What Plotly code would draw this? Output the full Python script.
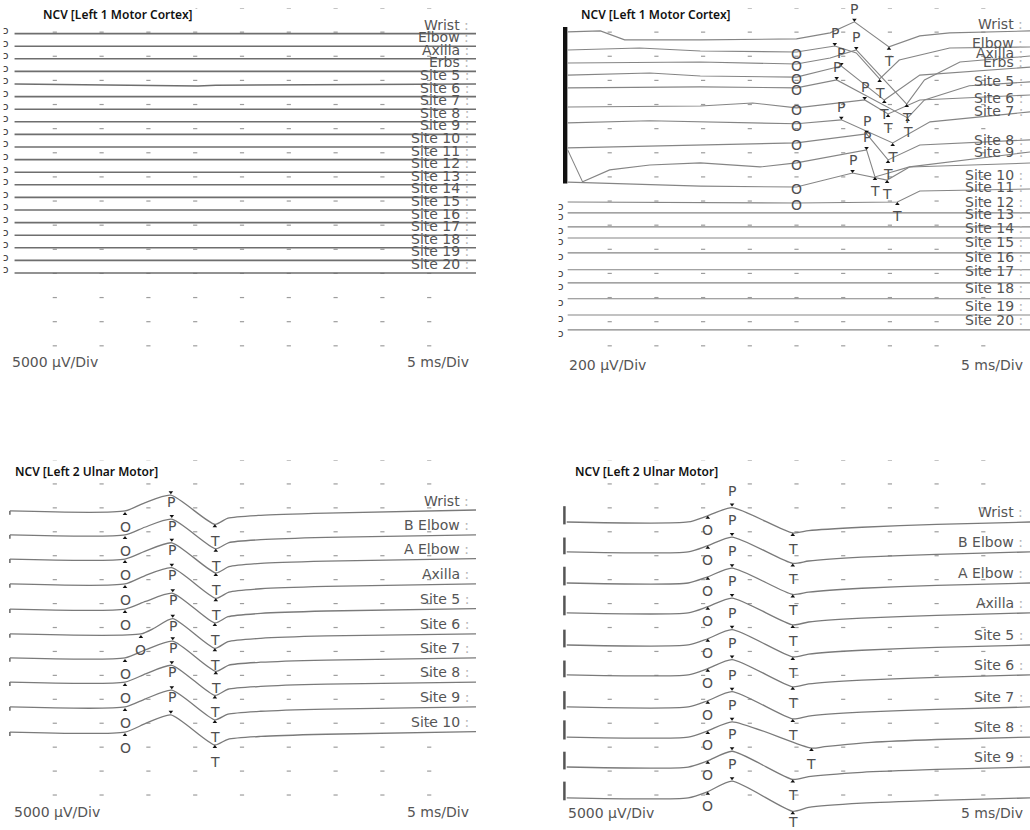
import plotly.graph_objects as go

# ======================= DATA =======================
TITLE_CORTEX = "NCV [Left 1 Motor Cortex]"
TITLE_ULNAR = "NCV [Left 2 Ulnar Motor]"
SENS_LABELS = ["5000 µV/Div", "200 µV/Div", "5000 µV/Div", "5000 µV/Div"]
UV_PER_DIV = [5000, 200, 5000, 5000]
SWEEP_LABEL = "5 ms/Div"
MS_RANGE = [0, 50]

CORTEX_SITES = ["Wrist", "Elbow", "Axilla", "Erbs", "Site 5", "Site 6", "Site 7",
                "Site 8", "Site 9", "Site 10", "Site 11", "Site 12", "Site 13",
                "Site 14", "Site 15", "Site 16", "Site 17", "Site 18", "Site 19", "Site 20"]
ULNAR_SITES_L = ["Wrist", "B Elbow", "A Elbow", "Axilla", "Site 5", "Site 6",
                 "Site 7", "Site 8", "Site 9", "Site 10"]
ULNAR_SITES_R = ["Wrist", "B Elbow", "A Elbow", "Axilla", "Site 5", "Site 6",
                 "Site 7", "Site 8", "Site 9", ""]

# Panel 1 (Left 1 Motor Cortex, 5000 uV/Div): time (ms) and amplitude (uV)
P1_T = [[0.7, 50.0]] * 4 + [[0.7, 18.5, 20.3, 22.2, 50.0]] + [[0.7, 50.0]] * 15
P1_V = [[0, 0]] * 4 + [[0, -250, -400, -250, 0]] + [[0, 0]] * 15

# Panel 2 (Left 1 Motor Cortex, 200 uV/Div)
P2_T = [
    [0.5, 4.0, 6.6, 14.7, 25.0, 28.6, 31.2, 34.9, 38.2, 41.4, 50.0],
    [0.5, 8.2, 14.7, 25.0, 29.1, 31.4, 33.9, 36.0, 41.4, 50.0],
    [0.5, 14.7, 25.0, 28.6, 31.4, 36.8, 38.7, 42.5, 50.0],
    [0.5, 9.3, 14.7, 25.0, 29.8, 34.4, 38.2, 50.0],
    [0.5, 14.7, 25.0, 29.3, 36.9, 38.7, 43.5, 50.0],
    [0.5, 14.7, 20.3, 25.0, 32.3, 34.8, 38.2, 50.0],
    [0.5, 9.3, 25.0, 29.8, 35.3, 39.3, 50.0],
    [0.5, 14.7, 25.0, 32.5, 34.8, 38.2, 50.0],
    [0.5, 2.1, 5.0, 9.3, 14.7, 21.1, 25.0, 32.5, 33.4, 37.1, 50.0],
    [0.5, 14.7, 25.0, 31.0, 34.7, 37.1, 50.0],
    [0.5, 25.0, 35.8, 38.2, 50.0],
] + [[0.5, 50.0]] * 9
P2_V = [
    [0, 8, -66, -66, -58, -8, 83, -124, -33, -8, 8],
    [0, 17, -8, -17, 33, -25, -240, -83, 17, 25],
    [0, 8, -8, 41, 108, -340, -141, 8, 58],
    [0, 17, -8, -17, 75, -207, 0, 66],
    [0, 8, 0, 66, -249, -100, 17, 50],
    [0, 8, 33, -8, 58, -58, 58, 99],
    [0, 17, -8, 25, -166, 8, 91],
    [-41, -17, 0, 75, -141, -17, 25],
    [108, -157, -58, -17, 0, -33, 0, 108, -116, -33, 91],
    [41, 8, 0, 116, 58, 166, 199],
    [0, -8, 0, 91, 108],
] + [[0, 0]] * 9
# knot index of onset (O), peak (P), trough (T); None = not marked
P2_MARKS = [(4, 6, 7), (3, 4, 6), (2, 4, 5), (3, 4, 5), (2, 3, 4), (3, 4, 5),
            (2, 3, 4), (2, 3, 4), (6, 7, 8), (2, 3, 4), (1, None, 2)] + [(None, None, None)] * 9

# Panel 3 (Left 2 Ulnar Motor, 5000 uV/Div)
P3_T = [
    [0.2, 12.5, 14.6, 17.4, 22.1, 23.5, 27.0, 34.0, 50.0],
    [0.2, 12.5, 14.6, 17.5, 22.2, 23.6, 27.0, 34.0, 50.0],
    [0.2, 12.5, 14.6, 17.5, 22.2, 23.6, 27.0, 34.0, 50.0],
    [0.2, 12.5, 14.6, 17.5, 22.2, 23.6, 27.0, 34.0, 50.0],
    [0.2, 12.5, 14.7, 17.6, 22.1, 23.5, 27.0, 34.0, 50.0],
    [0.2, 14.2, 15.7, 17.6, 22.1, 23.5, 27.0, 34.0, 50.0],
    [0.2, 12.5, 14.7, 17.6, 22.2, 23.6, 27.0, 34.0, 50.0],
    [0.2, 12.5, 14.7, 17.5, 22.1, 23.5, 27.0, 34.0, 50.0],
    [0.2, 12.5, 14.7, 17.5, 22.1, 23.5, 27.0, 34.0, 50.0],
    [0.2, 12.5, 14.7, 17.4, 22.1, 23.5, 27.0, 34.0, 50.0],
]
P3_V = [
    [0, 0, 1700, 3300, -2800, -1500, -900, -450, 200],
    [0, 0, 1600, 3300, -2900, -1600, -1000, -500, 0],
    [0, 0, 1600, 3400, -2900, -1600, -900, -450, 100],
    [0, 0, 1700, 3400, -3000, -1700, -1000, -500, 0],
    [0, 0, 1600, 3300, -2900, -1600, -900, -400, 100],
    [0, 0, 1300, 3200, -3000, -1600, -900, -400, 0],
    [0, 0, 1700, 3500, -2800, -1500, -900, -450, 0],
    [0, 0, 1700, 3500, -2800, -1500, -900, -450, 0],
    [0, 0, 1700, 3500, -2700, -1500, -900, -450, 0],
    [0, 0, 1800, 3600, -2700, -1500, -900, -450, 100],
]
P3_MARKS = [(1, 3, 4)] * 10
P3_ARTIFACT = [-800] * 10

# Panel 4 (Left 2 Ulnar Motor, 5000 uV/Div)
P4_T = [[0.4, 13.4, 15.5, 18.1, 24.6, 26.3, 32.0, 40.0, 50.0]] * 7 + \
       [[0.4, 13.4, 15.5, 18.1, 26.6, 28.0, 33.0, 40.0, 50.0]] + \
       [[0.4, 13.4, 15.5, 18.1, 24.6, 26.3, 32.0, 40.0, 50.0]] * 2
P4_V = [
    [0, 0, 1300, 3000, -2300, -1800, -1100, -500, 0],
    [0, 0, 1300, 3100, -2400, -1900, -1100, -500, 0],
    [0, 0, 1300, 3100, -2400, -1900, -1100, -500, 0],
    [0, 0, 1300, 3100, -2500, -1900, -1100, -500, 0],
    [0, 0, 1300, 3200, -2500, -1900, -1100, -500, 0],
    [0, 0, 1300, 3200, -2500, -1900, -1100, -500, 0],
    [0, 0, 1300, 3200, -2500, -1900, -1100, -500, 0],
    [0, 0, 1300, 3200, -2300, -2000, -1100, -500, 0],
    [0, 0, 1300, 3300, -2600, -2000, -1100, -500, 0],
    [0, 0, 1300, 3500, -2800, -2000, -1100, -500, 0],
]
P4_MARKS = [(2, 3, 4)] * 10
P4_ARTIFACT = [3300, 3000, 3400, 3600, 3200, 3000, 3300, 3500, 3200, 3400]

# ======================= LAYOUT =======================
W, H = 1030, 830
BOXES = [(8, 476, 8, 370), (563, 1030, 8, 370), (8, 476, 460, 830), (563, 1030, 460, 830)]
PX_DIV = [24.13, 24.13, 23.93, 23.93]

P1_OFF = [(25.6 + 12.6 * i) / 24.13 for i in range(20)]
P2_OFF = [0.99, 1.74, 2.28, 2.78, 3.31, 4.10, 4.76, 5.59, 6.42, 7.42, 8.04, 8.49,
          9.07, 9.53, 10.15, 10.85, 11.39, 12.05, 12.72, 13.34]
P2_LABEL_Y = [0.66, 1.45, 1.86, 2.24, 3.03, 3.73, 4.27, 5.47, 5.97, 6.92, 7.42, 8.04,
              8.54, 9.12, 9.70, 10.32, 10.90, 11.60, 12.35, 12.93]
P3_OFF = [2.13, 3.13, 4.14, 5.18, 6.23, 7.27, 8.27, 9.28, 10.32, 11.37]
P4_OFF = [2.59, 3.84, 5.14, 6.39, 7.73, 8.98, 10.32, 11.58, 12.83, 14.12]

LINE_COL = "#7a7a7a"
TXT_COL = "#555555"
LBL_FONT = dict(family="DejaVu Sans", size=14, color=TXT_COL)
LET_FONT = dict(family="DejaVu Sans", size=14, color="#4f4f4f")

fig = go.Figure()
annotations = []


def ax(k):
    return ("x" if k == 0 else "x%d" % (k + 1)), ("y" if k == 0 else "y%d" % (k + 1))


layout_axes = {}
for k, (x0, x1, y0, y1) in enumerate(BOXES):
    sfx = "" if k == 0 else str(k + 1)
    layout_axes["xaxis" + sfx] = dict(domain=[x0 / W, x1 / W], range=MS_RANGE, visible=False,
                                      anchor="y" + sfx, fixedrange=True)
    layout_axes["yaxis" + sfx] = dict(domain=[1 - y1 / H, 1 - y0 / H],
                                      range=[-(y1 - y0) / PX_DIV[k], 0], visible=False,
                                      anchor="x" + sfx, fixedrange=True)
    xr, yr = ax(k)
    # dotted graticule
    gx, gy = [], []
    for r in range(0, 15):
        for c in range(1, 10):
            gx.append(c * 5)
            gy.append(-r)
    fig.add_trace(go.Scatter(x=gx, y=gy, mode="markers", xaxis=xr, yaxis=yr, hoverinfo="skip",
                             marker=dict(symbol="line-ew", size=3, color="#9d9d9d",
                                         line=dict(width=1.2, color="#9d9d9d")),
                             showlegend=False))


def add_waves(k, T, V, OFF, width, shape, color=LINE_COL):
    xr, yr = ax(k)
    for t, v, off in zip(T, V, OFF):
        fig.add_trace(go.Scatter(x=t, y=[-off + a / UV_PER_DIV[k] for a in v], mode="lines",
                                 xaxis=xr, yaxis=yr, hoverinfo="skip", showlegend=False,
                                 line=dict(color=color, width=width, shape=shape,
                                           smoothing=0.6 if shape == "spline" else None)))


def add_marks(k, T, V, OFF, MARKS, shifts, skip_letters=(), extra_shift=None):
    """Cursor triangles (scatter markers) plus O/P/T letters."""
    xr, yr = ax(k)
    extra_shift = extra_shift or {}
    up_x, up_y, dn_x, dn_y = [], [], [], []
    for i, (t, v, off, m) in enumerate(zip(T, V, OFF, MARKS)):
        for letter, idx in zip("OPT", m):
            if idx is None:
                continue
            mk_shift, let_shift = shifts[letter]
            let_shift = extra_shift.get((i, letter), let_shift)
            xv, yv = t[idx], -off + v[idx] / UV_PER_DIV[k]
            if mk_shift is not None:
                if letter == "P":
                    dn_x.append(xv); dn_y.append(yv + mk_shift / PX_DIV[k])
                else:
                    up_x.append(xv); up_y.append(yv + mk_shift / PX_DIV[k])
            if (i, letter) in skip_letters:
                continue
            annotations.append(dict(x=xv, y=yv, xref=xr, yref=yr, showarrow=False,
                                    text=letter, font=LET_FONT, yshift=let_shift))
    for xs, ys, sym in [(up_x, up_y, "triangle-up"), (dn_x, dn_y, "triangle-down")]:
        fig.add_trace(go.Scatter(x=xs, y=ys, mode="markers", xaxis=xr, yaxis=yr,
                                 hoverinfo="skip", showlegend=False,
                                 marker=dict(symbol=sym, size=4, color="#111")))


def add_labels(k, names, ys, yshift, xpos=49.5, size=14):
    xr, yr = ax(k)
    for name, y in zip(names, ys):
        if not name:
            continue
        annotations.append(dict(x=xpos, y=-y, xref=xr, yref=yr, showarrow=False, xanchor="right",
                                text=name + " <span style='color:#b5b5b5'>:</span>",
                                font=dict(family="DejaVu Sans", size=size, color=TXT_COL),
                                yshift=yshift))


# ---- panel 1
add_waves(0, P1_T, P1_V, P1_OFF, 1.6, "linear", "#6e6e6e")
add_labels(0, CORTEX_SITES, P1_OFF, 9)
for off in P1_OFF:
    annotations.append(dict(x=0, y=-off, xref="x", yref="y", showarrow=False, text="ɔ",
                            font=dict(family="DejaVu Sans", size=10, color="#333"),
                            xshift=-2, yshift=3))

# ---- panel 2
fig.add_trace(go.Scatter(x=[0.2, 0.2], y=[-P2_OFF[0] + 0.2, -P2_OFF[9] + 0.15], mode="lines",
                         xaxis="x2", yaxis="y2", hoverinfo="skip", showlegend=False,
                         line=dict(color="#111", width=5)))
add_waves(1, P2_T, P2_V, P2_OFF, 1.1, "linear", "#858585")
add_marks(1, P2_T, P2_V, P2_OFF, P2_MARKS,
          {"O": (None, -2), "P": (2, 13), "T": (-2, -14)}, skip_letters={(0, "O")})
add_labels(1, CORTEX_SITES, P2_LABEL_Y, 0)
for off in P2_OFF[10:]:
    annotations.append(dict(x=0, y=-off, xref="x2", yref="y2", showarrow=False, text="ɔ",
                            font=dict(family="DejaVu Sans", size=10, color="#333"),
                            xshift=-2, yshift=-4))

# ---- panel 3
for t, off, a in zip(P3_T, P3_OFF, P3_ARTIFACT):
    fig.add_trace(go.Scatter(x=[t[0], t[0]], y=[-off, -off + a / UV_PER_DIV[2]], mode="lines",
                             xaxis="x3", yaxis="y3", hoverinfo="skip", showlegend=False,
                             line=dict(color="#666", width=1.5)))
add_waves(2, P3_T, P3_V, P3_OFF, 1.3, "spline")
add_marks(2, P3_T, P3_V, P3_OFF, P3_MARKS,
          {"O": (-3, -16), "P": (3, -7), "T": (-2, -17)}, skip_letters={(9, "P")})
add_labels(2, ULNAR_SITES_L, P3_OFF, 10)

# ---- panel 4
for t, off, a in zip(P4_T, P4_OFF, P4_ARTIFACT):
    fig.add_trace(go.Scatter(x=[0.15, 0.15], y=[-off - 0.1, -off + a / UV_PER_DIV[3]], mode="lines",
                             xaxis="x4", yaxis="y4", hoverinfo="skip", showlegend=False,
                             line=dict(color="#555", width=2.5)))
add_waves(3, P4_T, P4_V, P4_OFF, 1.3, "spline")
add_marks(3, P4_T, P4_V, P4_OFF, P4_MARKS,
          {"O": (-2, -14), "P": (3, 17), "T": (-2, -16)}, extra_shift={(9, "T"): -11})
add_labels(3, ULNAR_SITES_R, P4_OFF, 10)

# ---- titles and scale labels
TITLE_FONT = dict(family="Noto Sans", size=12, color="#111", weight=600)
for k, (title, tx, ty) in enumerate([(TITLE_CORTEX, 3.4, -0.25), (TITLE_CORTEX, 1.6, -0.25),
                                     (TITLE_ULNAR, 0.4, -0.5), (TITLE_ULNAR, 1.0, -0.5)]):
    xr, yr = ax(k)
    annotations.append(dict(x=tx, y=ty, xref=xr, yref=yr, showarrow=False, xanchor="left",
                            text=title, font=TITLE_FONT, bgcolor="white", borderpad=2))

for k, (sx, sy) in enumerate([(0.2, -14.67), (0.4, -14.8), (0.4, -14.71), (0.3, -14.75)]):
    xr, yr = ax(k)
    annotations.append(dict(x=sx, y=sy, xref=xr, yref=yr, showarrow=False, xanchor="left",
                            text=SENS_LABELS[k], font=LBL_FONT))
    annotations.append(dict(x=49.5, y=sy, xref=xr, yref=yr, showarrow=False, xanchor="right",
                            text=SWEEP_LABEL, font=LBL_FONT))

fig.update_layout(width=W, height=H, margin=dict(l=0, r=0, t=0, b=0),
                  paper_bgcolor="white", plot_bgcolor="white", showlegend=False,
                  annotations=annotations, **layout_axes)
fig.write_html("out.html", config={"displayModeBar": False})
